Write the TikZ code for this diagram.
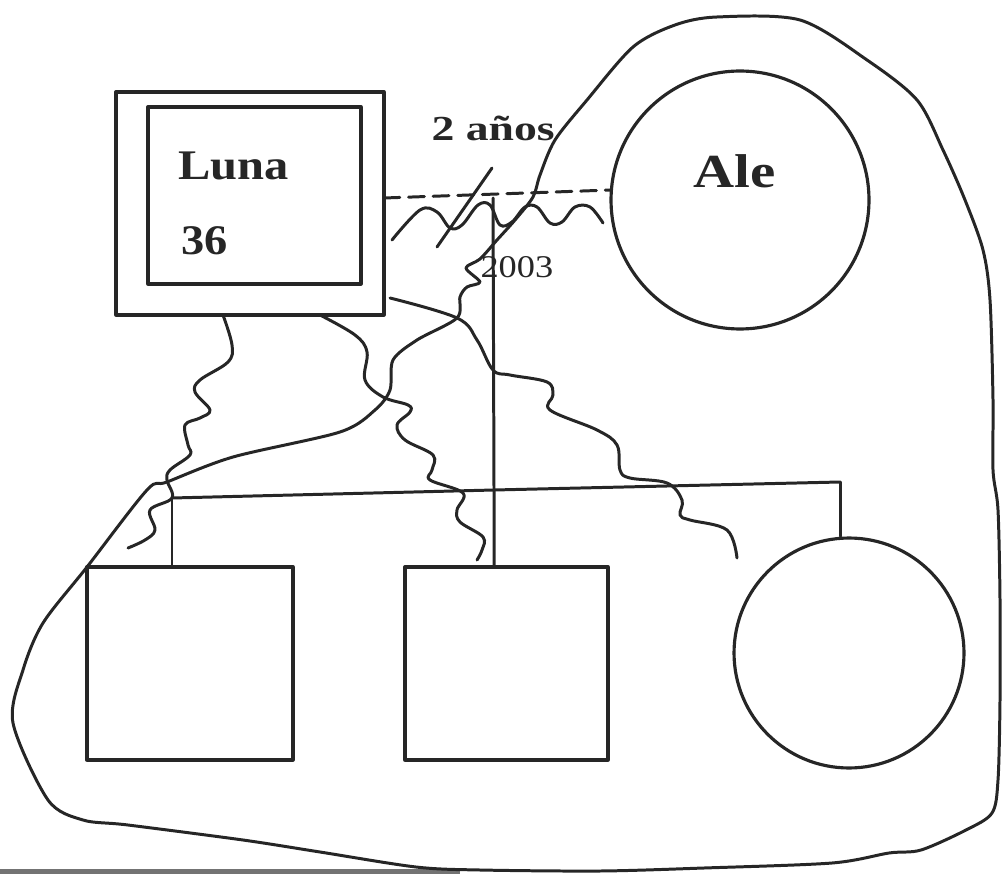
\documentclass[tikz,border=0pt]{standalone}
\usepackage{fontspec}
\usepackage{graphicx}
\setmainfont{Liberation Serif}
\begin{document}
\begin{tikzpicture}[x=0.02cm,y=-0.02cm,
  every path/.style={line width=1.7pt, line join=round, line cap=round},
  box/.style={draw=black!85, line width=1.9pt, rectangle, inner sep=0pt},
  person/.style={draw=black!85, line width=1.8pt, circle, inner sep=0pt},
  lbl/.style={anchor=base west, inner sep=0pt, text=black!85},
  wavy/.style={draw=black!85, line width=1.7pt},
  link/.style={draw=black!85, line width=1.7pt}]
\useasboundingbox (0,0) rectangle (1003,874);
\fill[black!55] (0,869) rectangle (460,874);
% persons
\node[box, minimum width=5.36cm, minimum height=4.46cm] (lunaout) at (250,203.5) {};
\node[box, minimum width=4.26cm, minimum height=3.54cm] (lunain) at (254.5,195.5) {};
\node[person, minimum size=5.16cm] (ale) at (740,200) {};
\node[box, minimum width=4.12cm, minimum height=3.86cm] (kid1) at (190,663.5) {};
\node[box, minimum width=4.06cm, minimum height=3.86cm] (kid2) at (506.5,663.5) {};
\node[person, minimum size=4.6cm] (kid3) at (849,653) {};
% texts
\node[lbl] (luna) at (177,180) {\fontsize{24}{28}\selectfont\bfseries\scalebox{1.15}[1]{Luna}};
\node[lbl] (age) at (180,255) {\fontsize{24}{28}\selectfont\bfseries\scalebox{1.1}[1]{36}};
\node[lbl] (aletxt) at (692,188) {\fontsize{27}{30}\selectfont\bfseries\scalebox{1.2}[1]{Ale}};
\node[lbl] (anos) at (430,141) {\fontsize{20}{24}\selectfont\bfseries\scalebox{1.3}[1]{2 años}};
\node[lbl] (year) at (479,278) {\fontsize{18}{22}\selectfont\scalebox{1.15}[1]{2003}};
% marriage / descent lines
\coordinate (m1) at (384,198);
\coordinate (m2) at (611,190);
\coordinate (d1) at (493,198);
\coordinate (s1) at (172,498);
\coordinate (s2) at (494,490);
\coordinate (s3) at (840,482);
\draw[link, dash pattern=on 9pt off 5pt] (m1) -- (m2);
\draw[link] (d1) -- (s2) -- (s2 |- kid2.north);
\draw[link] (s1) -- (s2) -- (s3);
\draw[link] (s1) -- (s1 |- kid1.north);
\draw[link] (s3) -- (s3 |- kid3.north);
% divorce slash
\coordinate (sl1) at (437,247);
\coordinate (sl2) at (492,168);
\draw[link] (sl1) -- (sl2);
% conflict line between Luna and Ale
\draw[wavy] plot[smooth, tension=0.6] coordinates {(392,240) (420,210) (437,212) (450,228) (462,225) (478,205) (490,205) (500,225) (512,222) (525,207) (537,207) (550,223) (562,222) (575,207) (590,207) (603,223)};
% conflict lines from Luna
\draw[wavy] plot[smooth, tension=0.6] coordinates {(223,315) (232,345) (228,362) (200,380) (195,392) (210,410) (200,418) (185,425) (188,445) (190,455) (170,470) (167,480) (172,498) (150,510) (155,530) (145,540) (128,548)};
\draw[wavy] plot[smooth, tension=0.6] coordinates {(320,315) (355,335) (367,352) (365,380) (383,397) (408,405) (410,412) (397,425) (405,440) (433,455) (432,470) (430,480) (463,493) (457,510) (460,522) (483,537) (482,550) (477,560)};
\draw[wavy] plot[smooth, tension=0.6] coordinates {(390,298) (457,318) (477,340) (493,370) (510,375) (547,382) (553,395) (550,410) (597,430) (617,445) (620,470) (630,478) (667,483) (682,500) (680,515) (690,520) (727,530) (737,558)};
% household boundary
\draw[wavy] plot[smooth cycle, tension=0.5] coordinates {(467,287) (480,282) (466,268) (480,259) (497,240) (515,220) (533,197) (540,175) (555,140) (587,100) (633,47) (675,25) (717,17) (800,20) (867,60) (917,100) (943,150) (965,200) (983,250) (990,300) (993,400) (993,470) (998,510) (1000,600) (1000,700) (998,780) (992,813) (966,830) (921,850) (889,853) (832,863) (704,868) (600,871) (480,870) (416,867) (320,852) (243,840) (128,825) (83,820) (48,800) (13,723) (23,670) (43,623) (87,567) (147,490) (167,482) (233,457) (340,432) (375,410) (390,390) (393,360) (417,340) (457,318) (460,297)};
\end{tikzpicture}
\end{document}
